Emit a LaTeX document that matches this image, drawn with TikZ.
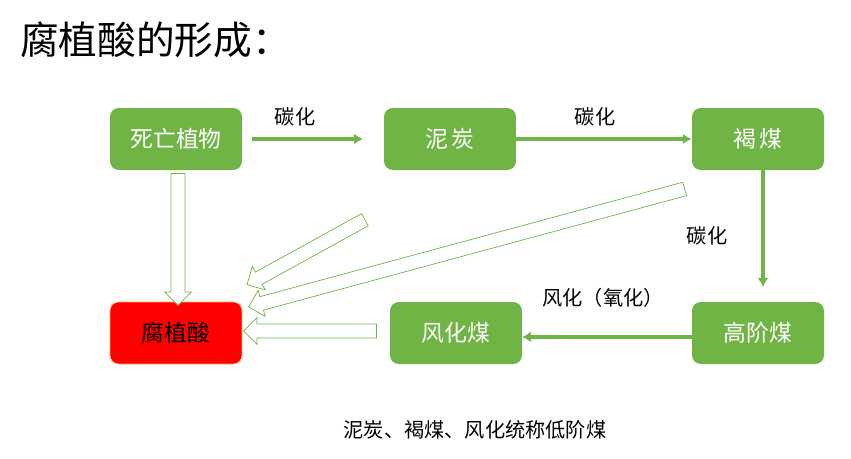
\documentclass[tikz,border=0pt]{standalone}
\usepackage{fontspec}
\setmainfont{Noto Sans CJK SC}
\usetikzlibrary{arrows.meta}
\usetikzlibrary{calc}
\usetikzlibrary{positioning}
\usetikzlibrary{shapes.arrows}
\definecolor{leaf}{RGB}{112,180,70}
\tikzstyle{block} = [rectangle, fill=leaf, text=white, font=\fontsize{13}{15}\selectfont, rounded corners=5pt, minimum height=1.24cm, minimum width=2.64cm]
\tikzstyle{line} = [draw=leaf, line width=1.8pt, -{Latex[length=5pt,width=6pt]}]
\tikzstyle{hollowarrow} = [single arrow, draw=leaf, fill=white, inner sep=2.6pt, single arrow head extend=0.13cm, shape border uses incircle, anchor=center]
\tikzstyle{value} = [font=\fontsize{11.5}{14}\selectfont]
\newcommand\hollow[2]{\path let \p1=($(#2)-(#1)$), \n1={atan2(\y1,\x1)}, \n2={veclen(\x1,\y1)} in node[hollowarrow, minimum height=\n2, rotate=\n1] at ($(#1)!0.5!(#2)$) {};}
\begin{document}
\begin{tikzpicture}[x=0.02cm, y=-0.02cm]
          \useasboundingbox (0,0) rectangle (851,458);
          % Title
          \node [anchor=west, font=\fontsize{22}{26}\selectfont] (title) at (14,40) {腐植酸的形成：};
          % Place nodes
          \node [block] (plant) at (176,139) {死亡植物};
          \node [block] (peat) at (450,139) {泥\,炭};
          \node [block] (lignite) at (758,139) {褐\,煤};
          \node [block, fill=red, draw=orange!60, text=black] (humic) at (176,333) {腐植酸};
          \node [block] (weathered) at (456,333) {风化煤};
          \node [block] (highrank) at (758,333) {高阶煤};
          % Labels
          \node [value] (c1) at (295,117) {碳化};
          \node [value] (c2) at (595,117) {碳化};
          \node [value] (c3) at (707,236) {碳化};
          \node [value] (ox) at (603,298) {风化（氧化）};
          \node [value] (note) at (475,430) {泥炭、褐煤、风化统称低阶煤};
          % Draw edges
          \coordinate (p1) at (252,139);
          \coordinate (p2) at (363,139);
          \path [line] (p1) -- (p2);
          \path [line] (peat) -- (lignite);
          \coordinate (l1) at (763,170);
          \coordinate (l2) at (763,287);
          \path [line] (l1) -- (l2);
          \coordinate (h1) at (693,337);
          \coordinate (h2) at (522,337);
          \path [line] (h1) -- (h2);
          % Hollow arrows
          \coordinate (a1) at (178,170); \coordinate (b1) at (178,302);
          \coordinate (a2) at (368,218); \coordinate (b2) at (250,283);
          \coordinate (a3) at (688,188); \coordinate (b3) at (252,306);
          \coordinate (a4) at (380,331); \coordinate (b4) at (247,331);
          \hollow{a1}{b1}
          \hollow{a2}{b2}
          \hollow{a3}{b3}
          \hollow{a4}{b4}
\end{tikzpicture}
\end{document}
